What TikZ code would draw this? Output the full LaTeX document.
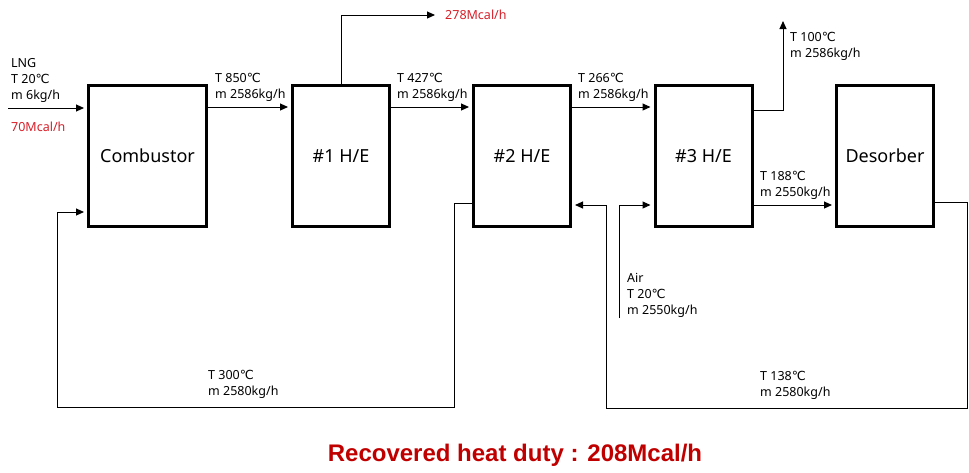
\documentclass[tikz,border=0pt]{standalone}
\usepackage{fontspec}
\setmainfont{Noto Sans}
\newfontfamily\degfont{DejaVu Sans}
\newfontfamily\dutyfont{Liberation Sans}
\newcommand{\degC}{{\degfont ℃}}
\usetikzlibrary{arrows.meta}
\definecolor{heatred}{RGB}{214,30,40}
\definecolor{dutyred}{RGB}{192,0,0}

\begin{document}
\begin{tikzpicture}[x=1pt,y=-1pt,
    unit/.style={draw,line width=3pt,inner sep=0pt,minimum width=97pt,minimum height=141pt,font=\fontsize{18}{20}\selectfont},
    flow/.style={line width=1pt,-{Triangle[length=8pt,width=7pt]},shorten >=3pt},
    lbl/.style={inner sep=0pt,align=left,anchor=south west,font=\fontsize{12.5}{16}\selectfont}]
  \useasboundingbox (0,0) rectangle (969,472);
  % units
  \node[unit,minimum width=118pt] (comb) at (147.5,156) {Combustor};
  \node[unit] (he1) at (341,156) {\#1 H/E};
  \node[unit] (he2) at (522,156) {\#2 H/E};
  \node[unit] (he3) at (703.5,156) {\#3 H/E};
  \node[unit] (des) at (885,156) {Desorber};
  % end points of the free streams
  \coordinate (lng) at (8,108);
  \coordinate (row) at (0,107);
  \coordinate (low) at (0,205);
  \coordinate (heat) at (438,15);
  \coordinate (stack) at (783,18);
  \coordinate (air) at (619,318);
  \coordinate (ra) at (967,202);
  \coordinate (rb) at (606,408);
  \coordinate (la) at (454,407);
  \coordinate (lb) at (57,212);
  % flue gas
  \draw[flow] (lng) -- (comb.west |- lng);
  \draw[flow] (comb.east |- row) -- (he1.west |- row);
  \draw[flow] (he1.east |- row) -- (he2.west |- row);
  \draw[flow] (he2.east |- row) -- (he3.west |- row);
  \draw[flow] (he1.north) |- (heat);
  \draw[flow] (he3.east |- 0,110) -| (stack);
  % air
  \draw[flow] (air) |- (he3.west |- low);
  \draw[flow] (he3.east |- low) -- (des.west |- low);
  \draw[flow] (des.east |- ra) -- (ra) |- (rb) |- (he2.east |- low);
  \draw[flow] (he2.west |- 0,203) -| (la) -| (lb) -- (comb.west |- lb);
  % labels
  \node[lbl] (lnglbl) at (11,103) {LNG\\T 20\degC\\m 6kg/h};
  \node[lbl,anchor=base west,text=heatred] (lngheat) at (11,131) {70Mcal/h};
  \node[lbl] (s1) at (215,102) {T 850\degC\\m 2586kg/h};
  \node[lbl] (s2) at (397,102) {T 427\degC\\m 2586kg/h};
  \node[lbl] (s3) at (578,102) {T 266\degC\\m 2586kg/h};
  \node[lbl,anchor=west,text=heatred] (heatlbl) at (445,15) {278Mcal/h};
  \node[lbl] (s4) at (790,61) {T 100\degC\\m 2586kg/h};
  \node[lbl] (a1) at (627,318) {Air\\T 20\degC\\m 2550kg/h};
  \node[lbl] (a2) at (760,200) {T 188\degC\\m 2550kg/h};
  \node[lbl] (a3) at (760,400) {T 138\degC\\m 2580kg/h};
  \node[lbl] (a4) at (208,399) {T 300\degC\\m 2580kg/h};
  \node[anchor=base,text=dutyred,font=\dutyfont\bfseries\fontsize{24}{28}\selectfont] (duty) at (515,461) {Recovered heat duty : 208Mcal/h};
\end{tikzpicture}
\end{document}
